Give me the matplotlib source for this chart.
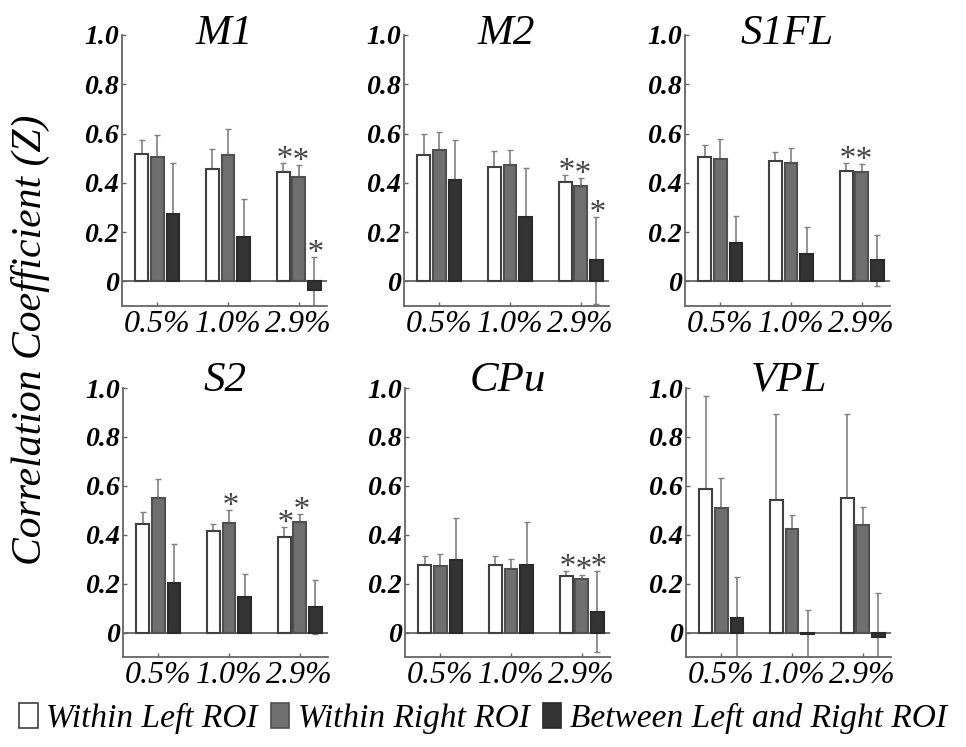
import matplotlib
matplotlib.use("Agg")
import matplotlib.pyplot as plt
import matplotlib.patches as mpatches
import numpy as np

plt.rcParams['font.family'] = ['Liberation Serif', 'DejaVu Serif']
plt.rcParams['font.style'] = 'italic'

concentrations = ["0.5%", "1.0%", "2.9%"]
regions = ["M1", "M2", "S1FL", "S2", "CPu", "VPL"]
series_names = ["Within Left ROI", "Within Right ROI", "Between Left and Right ROI"]

# means and error (SD) per region: left, right, between
m1_left = [0.518, 0.458, 0.443]
m1_left_err = [0.056, 0.080, 0.039]
m1_right = [0.504, 0.512, 0.424]
m1_right_err = [0.089, 0.106, 0.048]
m1_between = [0.272, 0.182, -0.035]
m1_between_err = [0.210, 0.152, 0.132]

m2_left = [0.512, 0.466, 0.405]
m2_left_err = [0.087, 0.065, 0.025]
m2_right = [0.535, 0.474, 0.386]
m2_right_err = [0.070, 0.061, 0.034]
m2_between = [0.411, 0.262, 0.085]
m2_between_err = [0.162, 0.200, 0.175]

s1fl_left = [0.503, 0.488, 0.447]
s1fl_left_err = [0.051, 0.039, 0.035]
s1fl_right = [0.495, 0.481, 0.443]
s1fl_right_err = [0.083, 0.060, 0.034]
s1fl_between = [0.154, 0.112, 0.085]
s1fl_between_err = [0.112, 0.107, 0.103]

s2_left = [0.443, 0.417, 0.390]
s2_left_err = [0.051, 0.026, 0.040]
s2_right = [0.550, 0.447, 0.453]
s2_right_err = [0.076, 0.055, 0.033]
s2_between = [0.203, 0.147, 0.106]
s2_between_err = [0.161, 0.094, 0.110]

cpu_left = [0.277, 0.277, 0.233]
cpu_left_err = [0.034, 0.038, 0.020]
cpu_right = [0.273, 0.259, 0.220]
cpu_right_err = [0.047, 0.042, 0.017]
cpu_between = [0.296, 0.277, 0.086]
cpu_between_err = [0.171, 0.176, 0.167]

vpl_left = [0.587, 0.542, 0.551]
vpl_left_err = [0.382, 0.352, 0.343]
vpl_right = [0.508, 0.423, 0.438]
vpl_right_err = [0.122, 0.059, 0.076]
vpl_between = [0.061, -0.007, -0.018]
vpl_between_err = [0.165, 0.098, 0.179]

# significance markers: (series index, concentration index)
m1_sig = [(0, 2), (1, 2), (2, 2)]
m2_sig = [(0, 2), (1, 2), (2, 2)]
s1fl_sig = [(0, 2), (1, 2)]
s2_sig = [(1, 1), (0, 2), (1, 2)]
cpu_sig = [(0, 2), (1, 2), (2, 2)]
vpl_sig = []

ytick_vals = [0, 0.2, 0.4, 0.6, 0.8, 1.0]
ytick_labels = ["0", "0.2", "0.4", "0.6", "0.8", "1.0"]

panels = [
    ("M1", [m1_left, m1_right, m1_between], [m1_left_err, m1_right_err, m1_between_err], m1_sig),
    ("M2", [m2_left, m2_right, m2_between], [m2_left_err, m2_right_err, m2_between_err], m2_sig),
    ("S1FL", [s1fl_left, s1fl_right, s1fl_between], [s1fl_left_err, s1fl_right_err, s1fl_between_err], s1fl_sig),
    ("S2", [s2_left, s2_right, s2_between], [s2_left_err, s2_right_err, s2_between_err], s2_sig),
    ("CPu", [cpu_left, cpu_right, cpu_between], [cpu_left_err, cpu_right_err, cpu_between_err], cpu_sig),
    ("VPL", [vpl_left, vpl_right, vpl_between], [vpl_left_err, vpl_right_err, vpl_between_err], vpl_sig),
]

W, H = 966, 747
fig = plt.figure(figsize=(W / 100, H / 100), dpi=100)

face_colors = ["#ffffff", "#6f6f6f", "#333333"]
edge_colors = ["#404040", "#505050", "#2a2a2a"]
axis_gray = "#666666"
err_gray = "#808080"

col_left_px = [[122, 404, 685], [123, 405, 686]]
row_top_px = [35, 388]
row_bot_px = [306, 657]
ax_w_px = 205
title_y = [0.965, 0.99]

offsets = [-0.22, 0.0, 0.22]
bar_w = 0.18
x = np.arange(1, 4)

for i, (name, means, errs, sig) in enumerate(panels):
    r, c = divmod(i, 3)
    left = col_left_px[r][c] / W
    bottom = 1 - row_bot_px[r] / H
    height = (row_bot_px[r] - row_top_px[r]) / H
    ax = fig.add_axes([left, bottom, ax_w_px / W, height])
    ax.set_xlim(0.5, 3.4)
    ax.set_ylim(-0.1, 1.0)
    ax.axhline(0, color=axis_gray, lw=1.3, zorder=1)
    for s in range(3):
        xs = x + offsets[s]
        ax.errorbar(xs, means[s], yerr=errs[s], fmt='none', ecolor=err_gray,
                    elinewidth=1.2, capsize=2, capthick=1.0, zorder=2, clip_on=True)
        ax.bar(xs, means[s], width=bar_w, color=face_colors[s],
               edgecolor=edge_colors[s], linewidth=1.5, zorder=3)
    for (s, k) in sig:
        top = means[s][k] + errs[s][k]
        ax.text(x[k] + offsets[s], top - 0.02, "*", ha='center', va='baseline',
                fontsize=24, color="#444444", zorder=4)
    ax.text(0.5, title_y[r], name, transform=ax.transAxes, ha='center', va='baseline',
            fontsize=31)
    for sp in ["top", "right"]:
        ax.spines[sp].set_visible(False)
    for sp in ["left", "bottom"]:
        ax.spines[sp].set_color(axis_gray)
        ax.spines[sp].set_linewidth(1.3)
    ax.set_xticks(x)
    ax.set_xticklabels(concentrations, fontsize=23)
    ax.set_yticks(ytick_vals)
    ax.set_yticklabels(ytick_labels, fontsize=20, fontweight='bold')
    ax.tick_params(axis='both', direction='in', length=3, color=axis_gray, width=1)
    ax.tick_params(axis='x', pad=3)
    ax.tick_params(axis='y', pad=2)

fig.text(0.032, 0.545, "Correlation Coefficient (Z)", rotation=90, ha='center', va='center',
         fontsize=30)

handles = [mpatches.Patch(facecolor=face_colors[s], edgecolor=edge_colors[s], linewidth=1.2)
           for s in range(3)]
fig.legend(handles, series_names, loc='center', bbox_to_anchor=(0.5, 0.038), ncol=3,
           frameon=False, fontsize=24, handlelength=0.55, handleheight=0.8,
           handletextpad=0.25, columnspacing=0.4, borderpad=0)

fig.savefig("out.png", dpi=100)
